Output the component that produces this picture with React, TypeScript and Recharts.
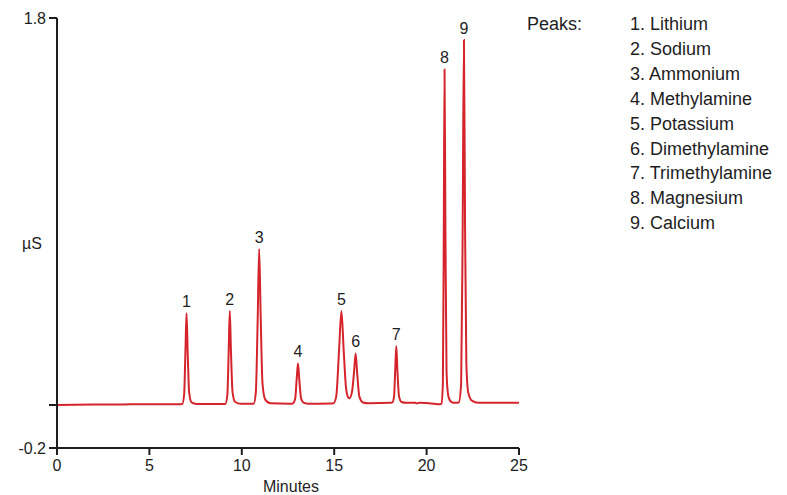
import React from 'react';
import { ComposedChart, Line, XAxis, YAxis, ReferenceDot } from 'recharts';

const traceTime = [
  0, 2, 4, 6.6,
  6.78, 6.88, 6.95, 7.01, 7.07, 7.15, 7.28, 7.55,
  9.0,
  9.12, 9.22, 9.29, 9.35, 9.41, 9.5, 9.64, 9.95,
  10.64, 10.76, 10.86, 10.94, 11.02, 11.12, 11.27, 11.55,
  12.6,
  12.76, 12.89, 12.97, 13.04, 13.11, 13.21, 13.36, 13.62,
  14.8,
  14.96, 15.11, 15.26, 15.39, 15.51, 15.64, 15.76,
  15.82,
  15.96, 16.08, 16.16, 16.25, 16.36, 16.55, 16.9,
  18.0,
  18.14, 18.24, 18.3, 18.36, 18.42, 18.51, 18.64, 18.9,
  19.4, 19.45, 19.6, 20.4, 20.7,
  20.8, 20.88, 20.93, 20.97, 21.02, 21.08, 21.18, 21.33, 21.53,
  21.74, 21.87, 21.95, 22.02, 22.08, 22.15, 22.25, 22.45, 22.8,
  25,
];

const traceSignal = [
  0.0, 0.002, 0.003, 0.004,
  0.005, 0.05, 0.25, 0.427, 0.25, 0.06, 0.012, 0.005,
  0.005,
  0.006, 0.05, 0.25, 0.437, 0.26, 0.06, 0.014, 0.006,
  0.006, 0.06, 0.4, 0.726, 0.42, 0.1, 0.025, 0.008,
  0.006,
  0.007, 0.03, 0.12, 0.194, 0.12, 0.03, 0.01, 0.006,
  0.007,
  0.008, 0.04, 0.25, 0.437, 0.26, 0.08, 0.035,
  0.031,
  0.06, 0.16, 0.24, 0.14, 0.04, 0.012, 0.008,
  0.01,
  0.011, 0.04, 0.16, 0.274, 0.16, 0.04, 0.014, 0.01,
  0.01, 0.007, 0.01, 0.006, 0.003,
  0.006, 0.1, 0.8, 1.561, 0.8, 0.15, 0.04, 0.015, 0.01,
  0.012, 0.1, 0.8, 1.698, 0.85, 0.2, 0.06, 0.02, 0.01,
  0.01,
];

const peakTimes = [7.01, 9.35, 10.94, 13.04, 15.39, 16.16, 18.36, 20.97, 22.02];
const peakHeights = [0.427, 0.437, 0.726, 0.194, 0.437, 0.24, 0.274, 1.561, 1.698];
const peakNumbers = ['1', '2', '3', '4', '5', '6', '7', '8', '9'];
const peakNames = [
  'Lithium', 'Sodium', 'Ammonium', 'Methylamine', 'Potassium',
  'Dimethylamine', 'Trimethylamine', 'Magnesium', 'Calcium',
];

const xTicks = [0, 5, 10, 15, 20, 25];
const yTicks = [-0.2, 0, 1.8];

const data = traceTime.map((t, i) => ({ t, s: traceSignal[i] }));

const FONT = '"Liberation Sans", Arial, sans-serif';
const AXIS = '#1e1e1e';
const RED = '#d5242b';

export default function App() {
  return (
    <div style={{ position: 'absolute', left: 0, top: 0, width: 787, height: 495, background: '#fff', fontFamily: FONT }}>
      <ComposedChart width={787} height={495} data={data} margin={{ top: 18, right: 268, bottom: 0, left: 0 }}>
        <XAxis
          type="number"
          dataKey="t"
          domain={[0, 25]}
          ticks={xTicks}
          height={47}
          axisLine={{ stroke: AXIS, strokeWidth: 2 }}
          tickLine={{ stroke: AXIS, strokeWidth: 2 }}
          tickSize={7}
          tickMargin={5}
          tick={{ fill: AXIS, fontSize: 16, fontFamily: FONT }}
        />
        <YAxis
          type="number"
          domain={[-0.2, 1.8]}
          ticks={yTicks}
          width={57}
          axisLine={{ stroke: AXIS, strokeWidth: 2 }}
          tickLine={{ stroke: AXIS, strokeWidth: 2 }}
          tickSize={8}
          tickMargin={3}
          tickFormatter={(v: number) => (v === 0 ? '' : v.toFixed(1))}
          tick={{ fill: AXIS, fontSize: 16, fontFamily: FONT }}
        />
        <Line
          type="monotone"
          dataKey="s"
          stroke={RED}
          strokeWidth={2}
          dot={false}
          isAnimationActive={false}
        />
        {peakTimes.map((t, i) => (
          <ReferenceDot
            key={i}
            x={t}
            y={peakHeights[i]}
            r={0}
            fill="none"
            stroke="none"
            label={{ value: peakNumbers[i], position: 'top', offset: 6, fill: AXIS, fontSize: 16, fontFamily: FONT }}
          />
        ))}
      </ComposedChart>
      <div style={{ position: 'absolute', left: 191, width: 200, textAlign: 'center', top: 477, fontSize: 16, color: AXIS, lineHeight: '20px' }}>Minutes</div>
      <div style={{ position: 'absolute', left: 22, top: 234, fontSize: 16, color: AXIS, lineHeight: '20px' }}>µS</div>
      <div style={{ position: 'absolute', left: 527, top: 12, fontSize: 18, color: AXIS, lineHeight: '24.9px' }}>Peaks:</div>
      <div style={{ position: 'absolute', left: 630, top: 12, fontSize: 18, color: AXIS, lineHeight: '24.9px' }}>
        {peakNames.map((n, i) => (
          <div key={i}>{`${peakNumbers[i]}. ${n}`}</div>
        ))}
      </div>
    </div>
  );
}
